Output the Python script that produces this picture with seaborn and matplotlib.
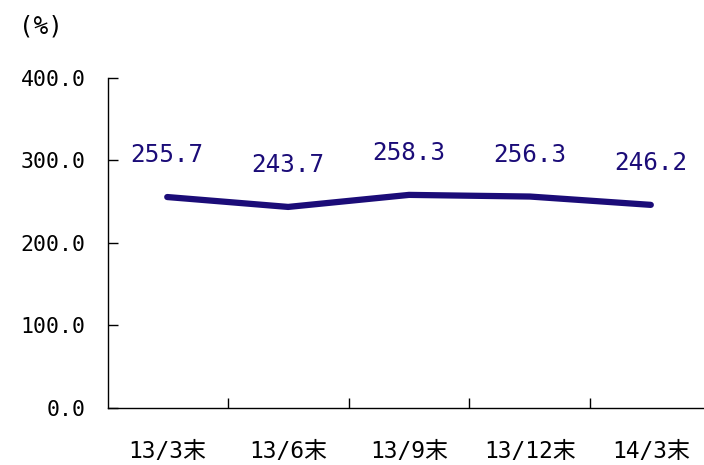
import matplotlib
matplotlib.use("Agg")
import matplotlib.pyplot as plt
import seaborn as sns
import pandas as pd

# Data
periods = ['13/3末', '13/6末', '13/9末', '13/12末', '14/3末']
ratio = [255.7, 243.7, 258.3, 256.3, 246.2]
yticks = [0, 100, 200, 300, 400]

sns.set_style('white')
plt.rcParams['font.family'] = ['DejaVu Sans Mono', 'Noto Sans CJK JP']
plt.rcParams['text.color'] = 'black'
plt.rcParams['xtick.color'] = 'black'
plt.rcParams['ytick.color'] = 'black'

df = pd.DataFrame({'pos': range(len(periods)), 'ratio': ratio})
line_color = '#1b0c78'

fig = plt.figure(figsize=(7.04, 4.65), dpi=100)
ax = fig.add_axes([0.1534, 0.1226, 0.8466, 0.7097])

sns.lineplot(data=df, x='pos', y='ratio', ax=ax, color=line_color,
             linewidth=4.5, solid_capstyle='round')

for x, v in zip(df['pos'], ratio):
    ax.annotate(f'{v:.1f}', (x, v), xytext=(0, 25), textcoords='offset points',
                ha='center', va='baseline', fontsize=17.5, color=line_color)

ax.set_xlim(-0.49, 4.44)
ax.set_ylim(0, 400)
ax.set_yticks(yticks)
ax.set_yticklabels([f'{t:.1f}' for t in yticks], fontsize=15.5)

# category boundaries carry the ticks, labels sit at the centres
ax.set_xticks([0.5, 1.5, 2.5, 3.5])
ax.set_xticklabels([])
ax.set_xticks(range(len(periods)), minor=True)
ax.set_xticklabels(periods, minor=True, fontsize=16.5)
ax.tick_params(axis='x', which='minor', bottom=True, length=0, pad=23)
ax.tick_params(axis='x', which='major', bottom=True, direction='in', length=7, width=1)
ax.tick_params(axis='y', which='major', left=True, direction='in', length=7, width=1, pad=16)

ax.set_xlabel('')
ax.set_ylabel('')
for side in ['top', 'right']:
    ax.spines[side].set_visible(False)
for side in ['left', 'bottom']:
    ax.spines[side].set_color('black')
    ax.spines[side].set_linewidth(1)

fig.text(0.027, 0.942, '(%)', fontsize=17.5, ha='left', va='center')

fig.savefig('out.png', dpi=100)
